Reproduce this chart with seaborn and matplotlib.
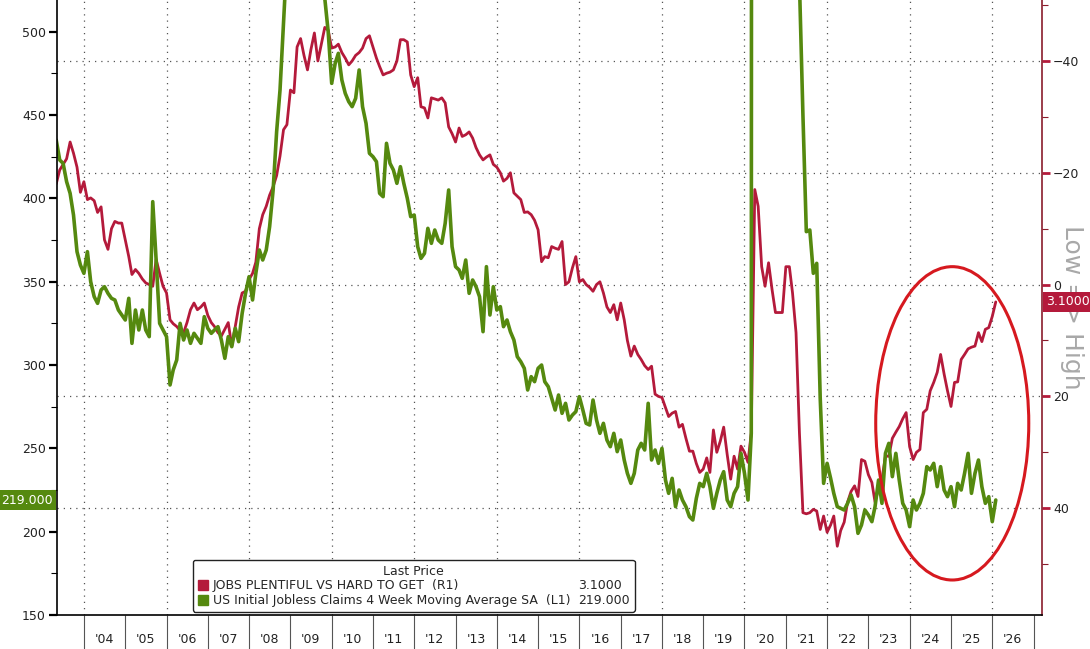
import matplotlib
matplotlib.use('Agg')
import matplotlib.pyplot as plt
import matplotlib.dates as mdates
from matplotlib.patches import Ellipse
from matplotlib.lines import Line2D
from matplotlib.ticker import MultipleLocator, FixedLocator
from matplotlib.transforms import blended_transform_factory
import seaborn as sns
import pandas as pd

# monthly observations, May 2003 -> Feb 2026
months = pd.date_range('2003-05-01', '2026-02-01', freq='MS')

# Conference Board: jobs plentiful minus jobs hard to get (right axis, inverted)
jobs_plentiful = [
    -18, -20.5, -21.5, -22.5, -25.5, -23.5, -21, -16.5,                       # 2003
    -18.4, -15.2, -15.5, -15, -12.9, -13.9, -8, -6.3, -10, -11.3, -11, -11,   # 2004
    -8, -5, -1.8, -2.7, -2, -1, -0.3, 0, 0.3, -4.5, -2, 0.3,                  # 2005
    1.5, 6.3, 7, 7.5, 8.2, 8.6, 6.8, 4.5, 3.3, 4.5, 4, 3.3,                   # 2006
    5.5, 6.8, 7.5, 8.6, 9.2, 8, 6.8, 11, 7.5, 4, 1.5, 1.2,                    # 2007
    -0.9, -2, -4, -10, -12.5, -14, -16, -17.5, -19.5, -23, -27.7, -28.6,      # 2008
    -34.8, -34.3, -42.5, -44, -41, -38.4, -42, -45, -40, -43, -46, -45.5,     # 2009
    -42.3, -42.5, -43, -41.5, -40.5, -39.3, -40, -41, -41.5, -42.3, -44, -44.5,  # 2010
    -42.5, -40.5, -39, -37.5, -37.8, -38, -38.4, -40, -43.8, -43.8, -43.4, -37.5,  # 2011
    -35.4, -37, -31.8, -31.6, -29.8, -33.4, -33.2, -33, -33.4, -32.5, -28.2, -27,  # 2012
    -25.5, -28, -26.5, -26.8, -27.3, -26.2, -24.5, -23.2, -22.3, -22.8, -23.2, -21.5,  # 2013
    -21, -20, -18.5, -19, -20, -16.4, -15.8, -15.2, -12.9, -13, -12.5, -11.5,  # 2014
    -9.8, -4.1, -5, -4.8, -6.8, -6.5, -6.3, -7.7, 0, -0.5, -3, -5,            # 2015
    -0.5, -0.9, 0, 0.5, 1.2, 0, -0.5, 1.5, 4, 5, 3.6, 6.3,                    # 2016
    3.3, 6.3, 10, 12.8, 11, 12.5, 13.4, 14.5, 15.2, 14.6, 19.6, 20,           # 2017
    20.2, 22, 23.6, 23, 22.7, 25.5, 25, 27.5, 29.8, 29.8, 32, 33.6,           # 2018
    33, 31, 33.6, 26, 30, 28, 25.5, 30.4, 34.8, 30.7, 33, 28.9,               # 2019
    30, 31.8, 26.5, -17, -14, -3.2, 0.3, -3.9, 0.9, 5, 5, 5,                  # 2020
    -3.2, -3.2, 1.5, 8.6, 26.5, 40.8, 41, 40.8, 40.2, 40.5, 43.8, 41.4,       # 2021
    44.3, 43, 41.4, 46.8, 44, 42.5, 38.9, 37, 36, 37.9, 31.3, 31.6,           # 2022
    34, 35.4, 38.9, 36.5, 34.8, 30.7, 30.7, 27.5, 26.4, 25.4, 24, 22.9,       # 2023
    29, 31.3, 30, 29.5, 22.9, 22.3, 19, 17.5, 15.7, 12.5, 16, 19,             # 2024
    21.8, 17.5, 17.4, 13.4, 12.5, 11.5, 11.2, 11, 8.6, 10.2, 8, 7.7,          # 2025
    5.7, 3.1,                                                                 # 2026
]

# US initial jobless claims, 4 week moving average SA, thousands (left axis)
jobless_claims = [
    435, 423, 421, 410, 403, 390, 368, 360,                          # 2003
    355, 368, 350, 341, 337, 345, 347, 343, 340, 339, 333, 330,      # 2004
    327, 340, 313, 333, 321, 333, 321, 317, 398, 363, 325, 321,      # 2005
    317, 288, 297, 303, 325, 315, 321, 313, 319, 316, 313, 329,      # 2006
    322, 319, 321, 323, 315, 304, 317, 311, 322, 314, 331, 343,      # 2007
    353, 339, 355, 369, 363, 369, 383, 405, 440, 465, 505, 545,      # 2008
    575, 620, 650, 640, 630, 615, 580, 565, 555, 540, 520, 500,      # 2009
    469, 481, 487, 471, 463, 458, 455, 460, 477, 455, 445, 427,      # 2010
    425, 422, 403, 401, 433, 421, 417, 409, 419, 409, 400, 389,      # 2011
    390, 371, 364, 367, 382, 373, 381, 375, 373, 385, 405, 371,      # 2012
    359, 357, 352, 363, 343, 351, 347, 341, 320, 359, 330, 347,      # 2013
    333, 335, 323, 327, 320, 315, 305, 302, 298, 285, 293, 290,      # 2014
    298, 300, 290, 287, 280, 273, 282, 271, 277, 267, 270, 272,      # 2015
    281, 273, 265, 264, 279, 267, 259, 265, 255, 251, 259, 248,      # 2016
    255, 243, 235, 229, 235, 249, 253, 249, 277, 243, 249, 241,      # 2017
    250, 231, 223, 232, 215, 225, 219, 215, 209, 207, 220, 229,      # 2018
    227, 235, 227, 214, 223, 231, 236, 219, 215, 223, 227, 247,      # 2019
    235, 219, 259, 5000, 3800, 1500, 1400, 1100, 870, 790, 740, 830,  # 2020
    850, 780, 720, 650, 530, 450, 380, 381, 355, 361, 280, 229,      # 2021
    241, 232, 223, 215, 214, 213, 217, 222, 215, 199, 204, 213,      # 2022
    210, 206, 215, 231, 217, 247, 253, 233, 247, 231, 217, 213,      # 2023
    203, 219, 213, 217, 223, 239, 237, 241, 227, 239, 225, 221,      # 2024
    227, 215, 229, 225, 235, 247, 223, 235, 243, 227, 217, 221,      # 2025
    206, 219,                                                        # 2026
]

series_names = ['JOBS PLENTIFUL VS HARD TO GET  (R1)',
                'US Initial Jobless Claims 4 Week Moving Average SA  (L1)']
left_ticks = [150, 200, 250, 300, 350, 400, 450, 500]
right_ticks = [-40, -20, 0, 20, 40]
label_years = list(range(2004, 2027))
grid_years = list(range(2004, 2027, 2))

RED = '#B41A3B'
GREEN = '#55890F'
DARK_RED = '#8A1C2C'
CIRCLE = '#D6191F'
GRID = '#555555'

sns.set_style('white')
plt.rcParams['font.family'] = ['DejaVu Sans']

fig = plt.figure(figsize=(10.9, 6.49), dpi=100)
ax = fig.add_axes([57 / 1090, 34 / 649, 985 / 1090, 615 / 649])
ax2 = ax.twinx()
# claims line drawn on top of the differential line
ax.set_zorder(ax2.get_zorder() + 1)
ax.patch.set_visible(False)

sns.lineplot(x=months, y=jobs_plentiful, ax=ax2, color=RED, lw=2.0)
sns.lineplot(x=months, y=jobless_claims, ax=ax, color=GREEN, lw=2.6)

ax.set_xlim(pd.Timestamp('2003-05-08'), pd.Timestamp('2027-03-17'))
ax.set_ylim(150, 519)
ax2.set_ylim(59.1, -50.9)
ax.set_xlabel('')
ax.set_ylabel('')
ax2.set_ylabel('')

# dotted grid: years every two, right axis majors
ax2.set_axisbelow(True)
for yr in grid_years:
    ax2.axvline(pd.Timestamp(f'{yr}-01-01'), color=GRID, lw=0.9, ls=(0, (1, 4)), zorder=0)
ax2.grid(True, axis='y', which='major', color=GRID, lw=0.9, ls=(0, (1, 4)))

# x axis: labels mid-year, separators at year boundaries
ax.xaxis.set_major_locator(FixedLocator(
    [mdates.date2num(pd.Timestamp(f'{y}-07-01')) for y in label_years]))
ax.xaxis.set_major_formatter(mdates.DateFormatter("'%y"))
ax.xaxis.set_minor_locator(FixedLocator(
    [mdates.date2num(pd.Timestamp(f'{y}-01-01')) for y in label_years + [2027]]))
ax.tick_params(axis='x', which='major', length=0, pad=13, labelsize=9, labelcolor='#222')
ax.tick_params(axis='x', which='minor', direction='out', length=25, width=0.8,
               color='#555', bottom=True)

# left axis
ax.set_yticks(left_ticks)
ax.yaxis.set_minor_locator(MultipleLocator(25))
ax.tick_params(axis='y', which='major', direction='out', length=6, width=1.6,
               color='black', labelsize=9, labelcolor='#222', pad=2, left=True)
ax.tick_params(axis='y', which='minor', direction='out', length=4, width=0.8, color='black', left=True)

# right axis
ax2.set_yticks(right_ticks)
ax2.yaxis.set_minor_locator(MultipleLocator(10))
ax2.tick_params(axis='y', which='major', direction='out', length=6, width=2,
                color=RED, labelsize=9, labelcolor='#222', pad=2, right=True)
ax2.tick_params(axis='y', which='minor', direction='out', length=4, width=0.8, color=DARK_RED, right=True)

for a in (ax, ax2):
    a.spines['top'].set_visible(False)
ax.spines['right'].set_visible(False)
ax2.spines['left'].set_visible(False)
ax2.spines['bottom'].set_visible(False)
ax.spines['left'].set_color('black')
ax.spines['bottom'].set_color('black')
ax2.spines['right'].set_color(DARK_RED)
for s in ('left', 'bottom'):
    ax.spines[s].set_linewidth(1.2)
ax2.spines['right'].set_linewidth(1.2)

# circle highlighting the recent divergence
ax.add_patch(Ellipse((mdates.date2num(pd.Timestamp('2025-01-12')), 265), width=1354, height=188,
                     fill=False, ec=CIRCLE, lw=2.2, zorder=6))

# last value tags
last_claims = jobless_claims[-1]
last_diff = jobs_plentiful[-1]
ax.text(-0.004, last_claims, f'{last_claims:.3f}',
        transform=blended_transform_factory(ax.transAxes, ax.transData),
        ha='right', va='center', color='white', fontsize=9, clip_on=False,
        bbox=dict(boxstyle='square,pad=0.25', fc=GREEN, ec='none'))
ax2.text(1.004, last_diff, f'{last_diff:.4f}',
         transform=blended_transform_factory(ax2.transAxes, ax2.transData),
         ha='left', va='center', color='white', fontsize=9, clip_on=False, zorder=10,
         bbox=dict(boxstyle='square,pad=0.25', fc=RED, ec='none'))

fig.text(1072 / 1090, 1 - 307 / 649, 'Low => High', rotation=270, ha='center', va='center',
         fontsize=18, color='#A8A8A8', zorder=-1)

# legend with last prices in a second column
handles = [Line2D([], [], marker='s', ls='none', color=RED, markersize=7),
           Line2D([], [], marker='s', ls='none', color=GREEN, markersize=7),
           Line2D([], [], ls='none'),
           Line2D([], [], ls='none')]
labels = series_names + [f'{last_diff:.4f}', f'{last_claims:.3f}']
leg = ax.legend(handles, labels, ncol=2, title='Last Price', loc='lower left',
                bbox_to_anchor=(0.138, 0.005), borderaxespad=0, frameon=True, fancybox=True,
                fontsize=9, title_fontsize=9, handlelength=0.8, handletextpad=0.4,
                columnspacing=-0.6, borderpad=0.4, labelspacing=0.12)
leg.get_frame().set_edgecolor('#222')
leg.get_frame().set_linewidth(1.0)
leg.get_frame().set_facecolor('white')
leg.get_frame().set_alpha(1)
leg.set_zorder(20)

fig.savefig('out.png', dpi=100)
